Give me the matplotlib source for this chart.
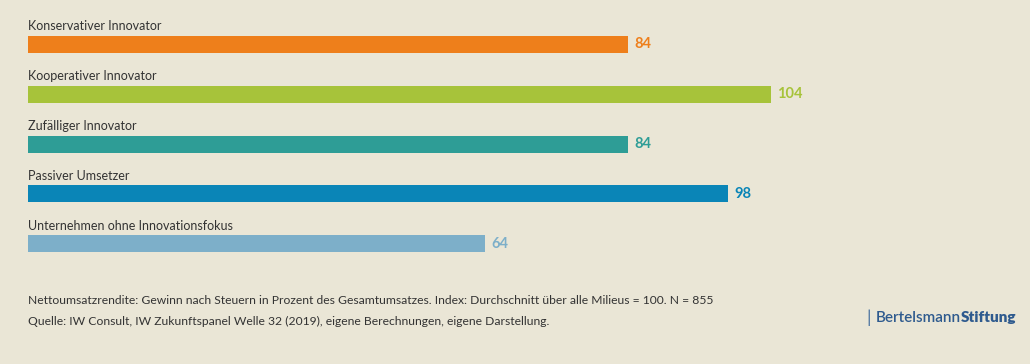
import matplotlib.pyplot as plt

plt.rcParams['font.family'] = ['Lato', 'DejaVu Sans']

categories = ['Konservativer Innovator', 'Kooperativer Innovator', 'Zufälliger Innovator',
              'Passiver Umsetzer', 'Unternehmen ohne Innovationsfokus']
values = [84, 104, 84, 98, 64]
colors = ['#EE7F1B', '#A7C33A', '#2E9D96', '#0A85B7', '#7DAFC9']

note = 'Nettoumsatzrendite: Gewinn nach Steuern in Prozent des Gesamtumsatzes. Index: Durchschnitt über alle Milieus = 100. N = 855'
source = 'Quelle: IW Consult, IW Zukunftspanel Welle 32 (2019), eigene Berechnungen, eigene Darstellung.'

bg = '#EAE6D6'
fig = plt.figure(figsize=(10.3, 3.64), dpi=100, facecolor=bg)
ax = fig.add_axes([0, 0, 1, 1], facecolor=bg)

pos = list(range(len(values)))
ax.barh(pos, values, height=0.34, color=colors)
for i, (cat, v, c) in enumerate(zip(categories, values, colors)):
    ax.text(0, i - 0.36, cat, fontsize=9, color='#333333', va='center', ha='left')
    ax.text(v + 0.9, i, str(v), fontsize=10.5, fontweight='bold', color=c, va='center', ha='left')

ax.set_xlim(-3.92, 140.26)
ax.set_ylim(6.4, -0.88)
ax.axis('off')

fig.text(28 / 1030, 1 - 300 / 364, note, fontsize=8.7, color='#333333', va='center')
fig.text(28 / 1030, 1 - 321 / 364, source, fontsize=8.7, color='#333333', va='center')

# logo: thin bar, then the two words set right next to each other
logo_y = 1 - 318 / 364
fig.text(866 / 1030, logo_y, '|', fontsize=13, color='#4A72A0', va='center')
t1 = fig.text(876 / 1030, logo_y, 'Bertelsmann', fontsize=11, fontweight='semibold',
              color='#2E5A8E', va='center')
fig.canvas.draw()
bb = t1.get_window_extent()
fig.text(bb.x1 / fig.bbox.width, logo_y, 'Stiftung', fontsize=11, fontweight='heavy',
         color='#2E5A8E', va='center')

fig.savefig('out.png', dpi=100, facecolor=bg)
